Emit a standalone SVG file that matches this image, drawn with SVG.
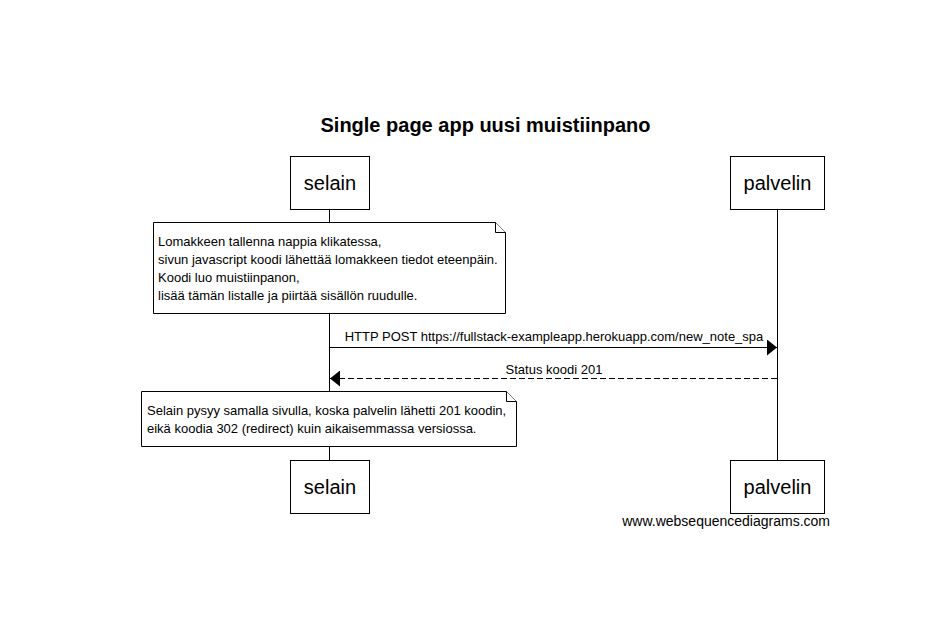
<svg xmlns="http://www.w3.org/2000/svg" width="938" height="625" viewBox="0 0 938 625">
<style>
text{font-family:"Liberation Sans",Arial,sans-serif;fill:#000}
.actor rect{fill:#fff;stroke:#000;stroke-width:1}
.actor text{font-size:20px;text-anchor:middle}
.life{stroke:#000;stroke-width:1}
.note path{fill:#fff;stroke:#000;stroke-width:1}
.note text{font-size:13px}
.msg{stroke:#000;stroke-width:1;fill:none}
.lbl{font-size:13px;text-anchor:middle}
</style>
<defs>
<marker id="ah" markerWidth="10" markerHeight="16" refX="10" refY="8" orient="auto" markerUnits="userSpaceOnUse">
<path d="M0,0 L10,8 L0,16 Z" fill="#000"/>
</marker>
</defs>
<rect width="938" height="625" fill="#fff"/>
<text x="485.5" y="132" font-size="20" font-weight="bold" text-anchor="middle">Single page app uusi muistiinpano</text>
<g id="lifelines">
<line class="life" x1="329.5" y1="209" x2="329.5" y2="461"/>
<line class="life" x1="777.5" y1="209" x2="777.5" y2="461"/>
</g>
<g id="selain_top" class="actor"><rect x="290.5" y="156.5" width="79" height="53"/><text x="330" y="190">selain</text></g>
<g id="palvelin_top" class="actor"><rect x="730.5" y="156.5" width="94" height="53"/><text x="777.5" y="190">palvelin</text></g>
<g id="selain_bottom" class="actor"><rect x="290.5" y="460.5" width="79" height="53"/><text x="330" y="494">selain</text></g>
<g id="palvelin_bottom" class="actor"><rect x="730.5" y="460.5" width="94" height="53"/><text x="777.5" y="494">palvelin</text></g>
<g id="note1" class="note">
<path d="M153.5,222.5 H495.5 L505.5,232.5 V313.5 H153.5 Z"/>
<path d="M495.5,222.5 V232.5 H505.5" fill="none"/>
<text x="158" y="246">Lomakkeen tallenna nappia klikatessa,</text>
<text x="158" y="264">sivun javascript koodi lähettää lomakkeen tiedot eteenpäin.</text>
<text x="158" y="282">Koodi luo muistiinpanon,</text>
<text x="158" y="300">lisää tämän listalle ja piirtää sisällön ruudulle.</text>
</g>
<g id="note2" class="note">
<path d="M141.5,391.5 H506.5 L516.5,401.5 V446.5 H141.5 Z"/>
<path d="M506.5,391.5 V401.5 H516.5" fill="none"/>
<text x="147" y="415">Selain pysyy samalla sivulla, koska palvelin lähetti 201 koodin,</text>
<text x="147" y="433">eikä koodia 302 (redirect) kuin aikaisemmassa versiossa.</text>
</g>
<g id="connectors">
<line class="msg" x1="330" y1="347.5" x2="777" y2="347.5" marker-end="url(#ah)"/>
<text class="lbl" x="554" y="341">HTTP POST https://fullstack-exampleapp.herokuapp.com/new_note_spa</text>
<line class="msg" x1="777" y1="378.5" x2="330" y2="378.5" stroke-dasharray="6,3" marker-end="url(#ah)"/>
<text class="lbl" x="554" y="374">Status koodi 201</text>
</g>
<text x="830" y="526" font-size="14" text-anchor="end">www.websequencediagrams.com</text>
</svg>
